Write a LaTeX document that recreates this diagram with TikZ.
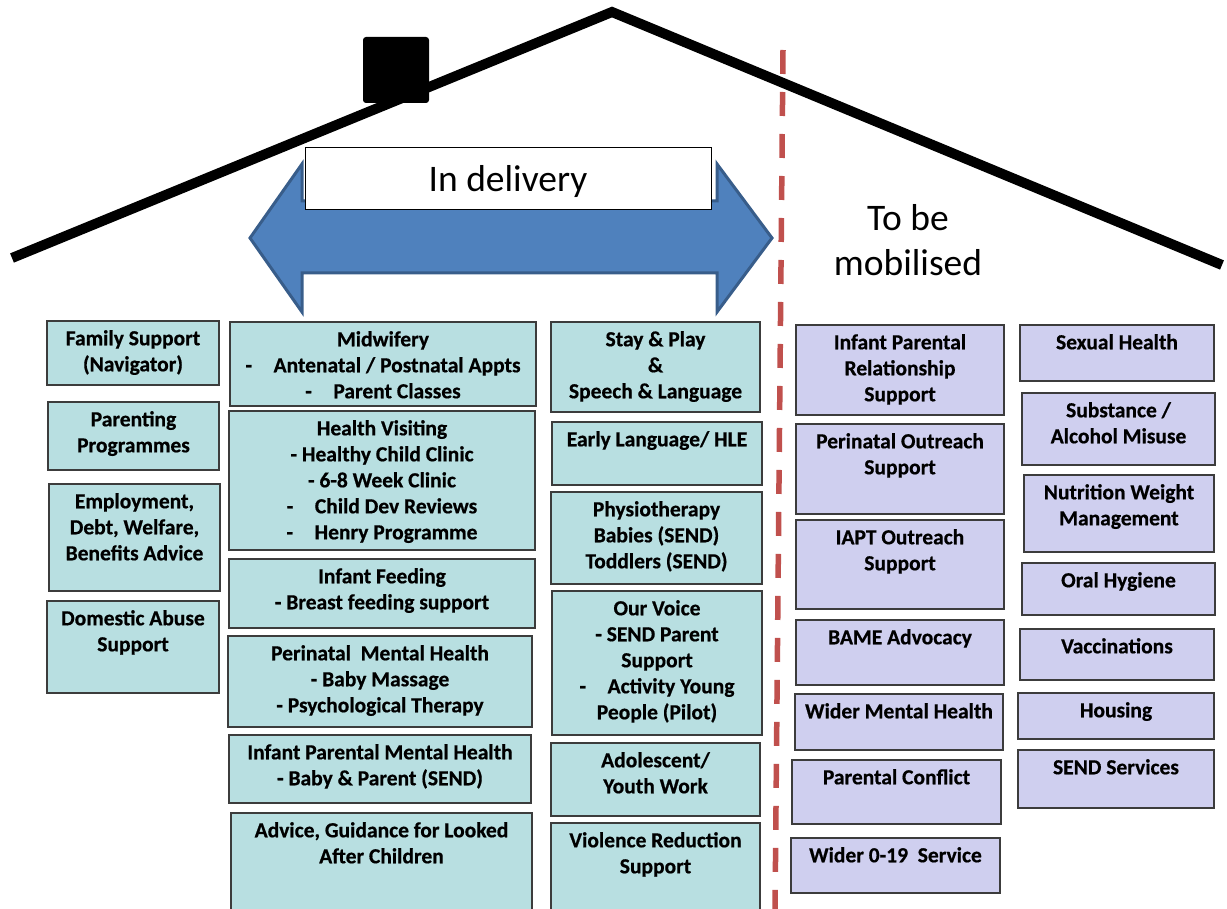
\documentclass[tikz,border=0pt]{standalone}
\usepackage{fontspec}
\setmainfont{Carlito}
\newfontfamily\boxfont{Carlito}[FakeBold=0.6]
\definecolor{tealfill}{RGB}{184,223,225}
\definecolor{lavfill}{RGB}{207,207,239}
\definecolor{boxline}{RGB}{60,60,60}
\definecolor{arrowfill}{RGB}{79,129,189}
\definecolor{arrowline}{RGB}{56,93,138}
\definecolor{dashred}{RGB}{192,80,77}
\tikzset{
  x=1pt, y=-1pt,
  basebox/.style={draw=boxline, line width=1.8pt, inner sep=0pt, outer sep=0pt},
  tealbox/.style={basebox, fill=tealfill},
  lavbox/.style={basebox, fill=lavfill},
  boxtext/.style={inner sep=0pt, align=center, font=\boxfont\bfseries\fontsize{21.5}{26}\selectfont},
  bigtext/.style={inner sep=0pt, align=center, font=\fontsize{37.5}{45}\selectfont},
}
\newcommand\mkbox[7]{%
  \node[#6, minimum width={#4-#2}, minimum height={#5-#3}, anchor=north west] (#1) at (#2,#3) {};
  \node[boxtext, anchor=north] (#1t) at ([yshift=-9pt]#1.north) {#7};
}
\begin{document}
\begin{tikzpicture}
\useasboundingbox (0,0) rectangle (1227,909);
% roof
\coordinate (roofL) at (12,258);
\coordinate (apex) at (612,12);
\coordinate (roofR) at (1222,265);
\draw[line width=10pt, line join=miter] (roofL) -- (apex) -- (roofR);
% chimney
\fill[rounded corners=3pt] (363,37) rectangle (429,103);
% double arrow
\draw[fill=arrowfill, draw=arrowline, line width=3pt, line join=miter]
  (250,238) -- (302,164) -- (302,201) -- (717,201) -- (717,164) -- (772,238)
  -- (717,312) -- (717,273) -- (302,273) -- (302,312) -- cycle;
% In delivery box
\node[draw=black, fill=white, line width=1pt, minimum width=406pt, minimum height=62pt, anchor=north west, inner sep=0pt] (deliv) at (305,147) {};
\node[bigtext] (delivt) at (508,182) {In delivery};
% to be mobilised
\node[bigtext] (mobil) at (908,240) {To be\\mobilised};
% dashed divider
\coordinate (dtop) at (783,50);
\coordinate (dbot) at (775,915);
\draw[dashred, line width=5.5pt, dash pattern=on 24pt off 18pt] (dtop) -- (dbot);

% column 1
\mkbox{fam}{47}{321}{219}{385}{tealbox}{Family Support\\(Navigator)}
\mkbox{par}{48}{402}{219}{470}{tealbox}{Parenting\\Programmes}
\mkbox{emp}{49}{484}{220}{591}{tealbox}{Employment,\\Debt, Welfare,\\Benefits Advice}
\mkbox{dom}{47}{601}{219}{693}{tealbox}{Domestic Abuse\\Support}
% column 2
\mkbox{mid}{230}{322}{536}{406}{tealbox}{Midwifery\\-\quad Antenatal / Postnatal Appts\\-\quad Parent Classes}
\mkbox{hv}{229}{411}{535}{550}{tealbox}{Health Visiting\\- Healthy Child Clinic\\- 6-8 Week Clinic\\-\quad Child Dev Reviews\\-\quad Henry Programme}
\mkbox{inf}{229}{559}{535}{628}{tealbox}{Infant Feeding\\- Breast feeding support}
\mkbox{pmh}{228}{636}{532}{727}{tealbox}{Perinatal\ \ Mental Health\\- Baby Massage\\- Psychological Therapy}
\mkbox{ipmh}{229}{735}{531}{803}{tealbox}{Infant Parental Mental Health\\- Baby \& Parent (SEND)}
\mkbox{adv}{231}{813}{532}{915}{tealbox}{Advice, Guidance for Looked\\After Children}
% column 3
\mkbox{stay}{551}{322}{760}{412}{tealbox}{Stay \& Play\\\&\\Speech \& Language}
\mkbox{early}{552}{422}{762}{485}{tealbox}{Early Language/ HLE}
\mkbox{phys}{551}{492}{762}{584}{tealbox}{Physiotherapy\\Babies (SEND)\\Toddlers (SEND)}
\mkbox{voice}{552}{591}{762}{735}{tealbox}{Our Voice\\- SEND Parent\\Support\\-\quad Activity Young\\People (Pilot)}
\mkbox{adol}{551}{743}{760}{816}{tealbox}{Adolescent/\\Youth Work}
\mkbox{viol}{551}{823}{760}{915}{tealbox}{Violence Reduction\\Support}
% column 4
\mkbox{iprs}{796}{325}{1004}{415}{lavbox}{Infant Parental\\Relationship\\Support}
\mkbox{pos}{796}{424}{1004}{514}{lavbox}{Perinatal Outreach\\Support}
\mkbox{iapt}{796}{520}{1004}{609}{lavbox}{IAPT Outreach\\Support}
\mkbox{bame}{796}{620}{1004}{685}{lavbox}{BAME Advocacy}
\mkbox{wmh}{795}{694}{1003}{750}{lavbox}{Wider Mental Health}
\mkbox{pc}{792}{760}{1001}{824}{lavbox}{Parental Conflict}
\mkbox{w019}{791}{838}{1000}{893}{lavbox}{Wider 0-19\ \ Service}
% column 5
\mkbox{sex}{1020}{325}{1214}{381}{lavbox}{Sexual Health}
\mkbox{sub}{1022}{393}{1215}{465}{lavbox}{Substance /\\Alcohol Misuse}
\mkbox{nut}{1024}{475}{1214}{552}{lavbox}{Nutrition Weight\\Management}
\mkbox{oral}{1022}{563}{1215}{615}{lavbox}{Oral Hygiene}
\mkbox{vac}{1020}{629}{1214}{680}{lavbox}{Vaccinations}
\mkbox{hous}{1018}{693}{1214}{739}{lavbox}{Housing}
\mkbox{send}{1018}{750}{1214}{808}{lavbox}{SEND Services}
\end{tikzpicture}
\end{document}
